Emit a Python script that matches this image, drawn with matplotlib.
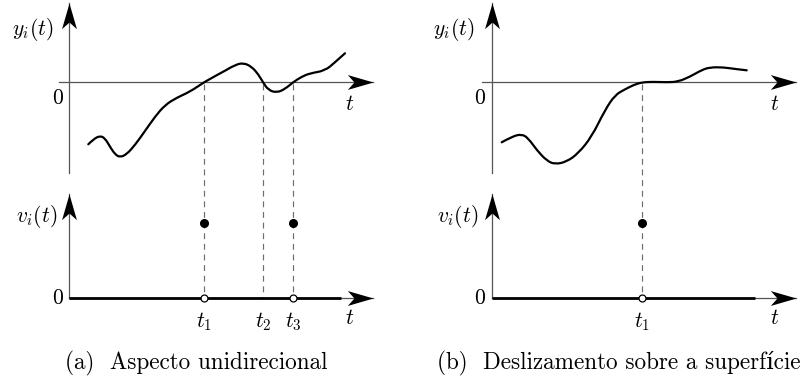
import numpy as np
import matplotlib.pyplot as plt
from matplotlib.path import Path
from matplotlib.patches import PathPatch

plt.rcParams['mathtext.fontset'] = 'cm'

# schematic curves (units of 10 px, origin where the axes cross)
ta = [1.93, 2.43, 3.1, 3.6, 4.1, 4.6, 5.1, 5.77, 6.6, 7.6, 8.6, 9.6, 10.77, 12.1, 13.5, 14.1,
      14.93, 15.43, 16.6, 17.43, 18.27, 18.93, 19.4, 19.93, 20.77, 21.6, 22.4, 23.27, 24.1,
      25.6, 26.6, 27.6]
ya = [-6.2, -5.7, -5.34, -5.6, -6.44, -7.2, -7.5, -7.2, -6.27, -4.87, -3.44, -2.27, -1.54,
      -0.94, 0.0, 0.33, 0.8, 1.06, 1.73, 1.95, 1.56, 0.8, 0.0, -0.77, -1.04, -0.67, 0.0, 0.56,
      0.9, 1.16, 2.0, 2.9]

tb = [0.97, 1.97, 2.97, 3.63, 4.47, 5.47, 6.3, 7.47, 8.63, 9.97, 11.3, 12.3, 13.3, 14.2, 15.0,
      16.1, 17.5, 18.6, 19.8, 20.97, 21.8, 23.13, 24.3, 25.47]
yb = [-6.0, -5.44, -5.17, -5.6, -6.77, -7.84, -8.2, -7.94, -7.1, -5.44, -2.77, -1.27, -0.7,
      -0.25, 0.0, 0.05, 0.0, 0.06, 0.56, 1.23, 1.5, 1.5, 1.33, 1.2]

# crossing times
cross_a = [13.5, 19.4, 22.4]
cross_a_lbl = [r'$t_1$', r'$t_2$', r'$t_3$']
hits_a = [13.5, 22.4]
cross_b = [15.0]
cross_b_lbl = [r'$t_1$']
hits_b = [15.0]

v_high = 7.53
low = -21.6        # baseline of lower plot
thick_end_a = 27.2
thick_end_b = 26.3

captions = ['(a)  Aspecto unidirecional', '(b)  Deslizamento sobre a superfície']
cap_x = [12.77, 12.7]

# stealth arrow heads
arr_right = [(0, 0), (-1, 0.29), (-0.74, 0), (-1, -0.29), (0, 0)]
arr_up = [(0, 0), (0.29, -1), (0, -0.74), (-0.29, -1), (0, 0)]

fig = plt.figure(figsize=(8.12, 3.81), dpi=100)

axcol = '#555555'
dashcol = '#6e6e6e'


def smooth_path(t, y):
    # quadratic bezier through the read points (points used as control points)
    pts = list(zip(t, y))
    verts = [pts[0]]
    codes = [Path.MOVETO]
    for i in range(1, len(pts) - 1):
        nxt = pts[i + 1] if i == len(pts) - 2 else ((pts[i][0] + pts[i + 1][0]) / 2,
                                                     (pts[i][1] + pts[i + 1][1]) / 2)
        verts += [pts[i], nxt]
        codes += [Path.CURVE3, Path.CURVE3]
    return Path(verts, codes)


def panel(ax, t, y, cross, cross_lbl, hits, thick_end, ylab_x, vlab_x, zero_x, tlab_x, cap, capx):
    ax.set_axis_off()
    # upper axes
    ax.plot([-1, 30.4], [0, 0], color=axcol, lw=0.9, zorder=1)
    ax.plot([0, 0], [-9.07, 7.93], color=axcol, lw=0.9, zorder=1)
    ax.plot([30.4], [0], marker=arr_right, ms=37, color='black', mew=0, zorder=4)
    ax.plot([0], [7.93], marker=arr_up, ms=37, color='black', mew=0, zorder=4)
    # lower axes
    ax.plot([0, 30.4], [low, low], color=axcol, lw=0.9, zorder=1)
    ax.plot([0, 0], [low, low + 10.47], color=axcol, lw=0.9, zorder=1)
    ax.plot([0, thick_end], [low, low], color='black', lw=2.0, solid_capstyle='butt', zorder=2)
    ax.plot([30.4], [low], marker=arr_right, ms=37, color='black', mew=0, zorder=4)
    ax.plot([0], [low + 10.47], marker=arr_up, ms=37, color='black', mew=0, zorder=4)
    # curve
    ax.add_patch(PathPatch(smooth_path(t, y), fill=False, edgecolor='black', lw=1.6,
                           capstyle='round', joinstyle='round', zorder=3))
    # dashed guides
    for c in cross:
        ax.plot([c, c], [-0.2, low], color=dashcol, lw=0.85, ls=(0, (5, 4)), zorder=1)
    ax.plot(hits, [low + v_high] * len(hits), 'o', color='black', ms=5.5, zorder=5)
    ax.plot(hits, [low] * len(hits), 'o', mfc='white', mec='black', mew=0.9, ms=5, zorder=5)
    # labels
    fs = 15.5
    ax.text(ylab_x, 5.23, r'$y_i(t)$', ha='center', va='center', fontsize=fs)
    ax.text(vlab_x, -13.44, r'$v_i(t)$', ha='center', va='center', fontsize=fs)
    ax.text(zero_x, -1.57, r'$0$', ha='center', va='center', fontsize=fs)
    ax.text(zero_x, low, r'$0$', ha='center', va='center', fontsize=fs)
    ax.text(tlab_x, -2.17, r'$t$', ha='center', va='center', fontsize=fs)
    ax.text(tlab_x, low - 2.0, r'$t$', ha='center', va='center', fontsize=fs)
    for c, s in zip(cross, cross_lbl):
        ax.text(c, low - 2.34, s, ha='center', va='center', fontsize=fs)
    ax.text(capx, -28.07, cap, ha='center', va='center', fontsize=16.7,
            family=['cmr10', 'DejaVu Serif'])


ax_a = fig.add_axes([0, 0, 0.5, 1])
ax_a.set_xlim(-6.9, 33.7)
ax_a.set_ylim(-29.87, 8.23)
panel(ax_a, ta, ya, cross_a, cross_a_lbl, hits_a, thick_end_a, -3.65, -3.25, -1.1, 28.1,
      captions[0], cap_x[0])

ax_b = fig.add_axes([0.5, 0, 0.5, 1])
ax_b.set_xlim(-8.6, 32.0)
ax_b.set_ylim(-29.87, 8.23)
panel(ax_b, tb, yb, cross_b, cross_b_lbl, hits_b, thick_end_b, -3.8, -3.45, -1.2, 28.3,
      captions[1], cap_x[1])

fig.savefig('out.png', dpi=100)
